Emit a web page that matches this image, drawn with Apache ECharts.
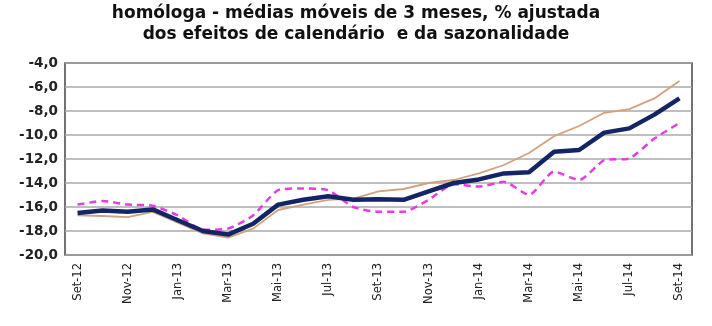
<!DOCTYPE html>
<html>
<head>
<meta charset="utf-8">
<script src="https://cdn.jsdelivr.net/npm/echarts@6/dist/echarts.min.js"></script>
<style>
  html, body { margin: 0; padding: 0; background: #fff; }
  #chart { width: 712px; height: 326px; }
</style>
</head>
<body>
<div id="chart"></div>
<script>
// meses (Set-12 .. Set-14)
var categories = ['Set-12','Out-12','Nov-12','Dez-12','Jan-13','Fev-13','Mar-13','Abr-13','Mai-13','Jun-13','Jul-13','Ago-13',
  'Set-13','Out-13','Nov-13','Dez-13','Jan-14','Fev-14','Mar-14','Abr-14','Mai-14','Jun-14','Jul-14','Ago-14','Set-14'];

// serie azul escura (grossa)
var navyValues = [-16.5,-16.3,-16.4,-16.2,-17.1,-18.0,-18.3,-17.4,-15.8,-15.4,-15.1,-15.4,
  -15.35,-15.4,-14.7,-14.0,-13.7,-13.2,-13.1,-11.4,-11.25,-9.8,-9.45,-8.3,-6.95];
// serie castanha clara (fina)
var tanValues = [-16.7,-16.75,-16.85,-16.4,-17.3,-18.2,-18.55,-17.8,-16.25,-15.8,-15.4,-15.3,
  -14.7,-14.5,-14.0,-13.75,-13.2,-12.5,-11.5,-10.1,-9.25,-8.15,-7.85,-6.95,-5.5];
// serie magenta (tracejada)
var magentaValues = [-15.8,-15.5,-15.8,-15.9,-16.7,-17.9,-17.8,-16.7,-14.6,-14.45,-14.6,-16.0,
  -16.4,-16.4,-15.4,-14.1,-14.3,-13.9,-15.0,-13.05,-13.75,-12.1,-11.95,-10.3,-9.0];

var yTicks = [-20, -18, -16, -14, -12, -10, -8, -6, -4];

var myChart = echarts.init(document.getElementById('chart'));
var font = 'DejaVu Sans, Verdana, sans-serif';

myChart.setOption({
  animation: false,
  title: {
    text: 'homóloga - médias móveis de 3 meses, % ajustada\ndos efeitos de calendário  e da sazonalidade',
    left: 'center',
    top: -2,
    textStyle: { fontFamily: font, fontSize: 17, fontWeight: 'bold', color: '#111', lineHeight: 21 }
  },
  grid: {
    left: 65, right: 20, top: 63, bottom: 71,
    show: true,
    borderColor: '#444',
    borderWidth: 1.5
  },
  xAxis: {
    type: 'category',
    data: categories,
    boundaryGap: true,
    axisLine: { show: false },
    axisTick: { show: false },
    axisLabel: {
      interval: 1,
      rotate: 90,
      margin: 8,
      fontFamily: font,
      fontSize: 11.5,
      color: '#222'
    }
  },
  yAxis: {
    type: 'value',
    min: yTicks[0],
    max: yTicks[yTicks.length - 1],
    interval: 2,
    axisLine: { show: false },
    axisTick: { show: false },
    axisLabel: {
      margin: 7,
      fontFamily: font,
      fontSize: 13.5,
      fontWeight: 'bold',
      color: '#222',
      formatter: function (v) { return v.toFixed(1).replace('.', ','); }
    },
    splitLine: { lineStyle: { color: '#aaa', width: 1.5 } }
  },
  series: [
    {
      name: 'castanha',
      type: 'line',
      data: tanValues,
      showSymbol: false,
      lineStyle: { color: '#d2a27e', width: 1.8 },
      z: 2
    },
    {
      name: 'magenta',
      type: 'line',
      data: magentaValues,
      showSymbol: false,
      smooth: 0.2,
      lineStyle: { color: '#e33de6', width: 2.5, type: [7, 5] },
      z: 3
    },
    {
      name: 'azul',
      type: 'line',
      data: navyValues,
      showSymbol: false,
      lineStyle: { color: '#142565', width: 4.5 },
      z: 4
    }
  ]
});
</script>
</body>
</html>
